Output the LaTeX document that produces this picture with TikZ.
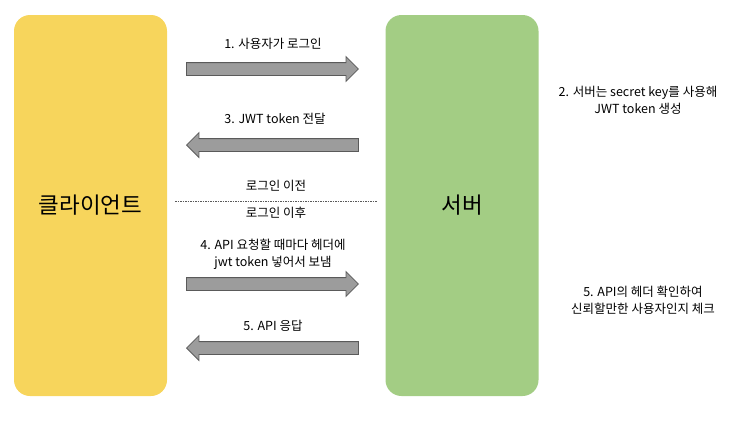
\documentclass[tikz,border=0pt]{standalone}
\usepackage{fontspec}
\setmainfont{Noto Sans CJK KR}
\usetikzlibrary{shapes.arrows}
\definecolor{cyel}{HTML}{F7D55C}
\definecolor{cgrn}{HTML}{A3CD84}
\definecolor{cgray}{HTML}{9C9C9C}
\definecolor{cline}{HTML}{5A5A5A}
\tikzset{
  actor/.style={rounded corners=16pt, minimum width=153pt, minimum height=381pt, inner sep=0pt, font=\fontsize{22.5}{26}\selectfont},
  flow/.style={single arrow, draw=cline, fill=cgray, line width=0.8pt, single arrow head extend=6pt, single arrow head indent=0pt, minimum height=172pt, inner xsep=0pt, inner ysep=6pt, single arrow tip angle=90},
  lbl/.style={font=\fontsize{12.5}{17}\selectfont, align=center, inner sep=0pt},
}
\begin{document}
\begin{tikzpicture}[x=1pt,y=-1pt]
\useasboundingbox (0,0) rectangle (750,421);
\node[actor, fill=cyel] (client) at (90.5,205.5) {클라이언트};
\node[actor, fill=cgrn] (server) at (462,205.5) {서버};

\node[flow, anchor=tail] (a1) at (186,69) {};
\node[flow, shape border rotate=180, anchor=tip] (a3) at (186,145) {};
\node[flow, anchor=tail] (a4) at (186,284) {};
\node[flow, shape border rotate=180, anchor=tip] (a5) at (186,348) {};

\node[lbl] (l1) at (273,44) {1. 사용자가 로그인};
\node[lbl] (l3) at (275,119) {3. JWT token 전달};
\node[lbl] (l4) at (273,254.5) {4. API 요청할 때마다 헤더에\\jwt token 넣어서 보냄};
\node[lbl] (l5) at (273,326) {5. API 응답};

\coordinate (dl) at (175,201);
\coordinate (dr) at (377,201);
\draw[cline, line width=0.6pt, dash pattern=on 1.5pt off 1pt] (dl) -- (dr);
\node[lbl] (before) at (276,186) {로그인 이전};
\node[lbl] (after) at (276,213) {로그인 이후};

\node[lbl] (r2) at (638,100) {2. 서버는 secret key를 사용해\\JWT token 생성};
\node[lbl] (r5) at (643,300.5) {5. API의 헤더 확인하여\\신뢰할만한 사용자인지 체크};
\end{tikzpicture}
\end{document}
